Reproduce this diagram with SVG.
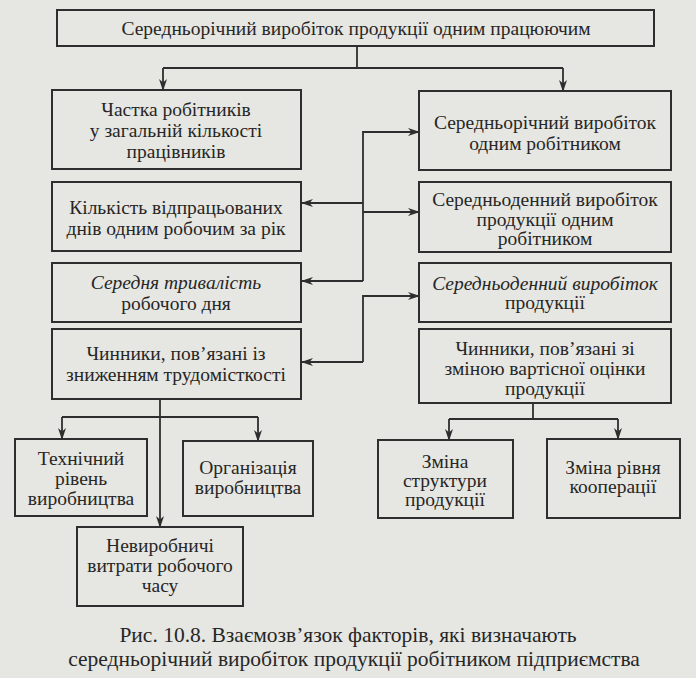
<svg xmlns="http://www.w3.org/2000/svg" width="696" height="678" viewBox="0 0 696 678">
<defs>
<style>
.bx{fill:none;stroke:#2e2e2e;stroke-width:2}
.t{font-family:'Liberation Serif','DejaVu Serif',serif;font-size:19.5px;fill:#262626;text-anchor:middle}
.i{font-style:italic}
.cap{font-family:'Liberation Serif','DejaVu Serif',serif;font-size:21.5px;fill:#262626;text-anchor:middle}
.c{fill:none;stroke:#2e2e2e;stroke-width:1.8}
</style>
<marker id="ar" viewBox="0 0 12 8" refX="11" refY="4" markerWidth="12" markerHeight="8" markerUnits="userSpaceOnUse" orient="auto">
<path d="M0,0 L12,4 L0,8 L3.5,4 Z" fill="#2e2e2e"/>
</marker>
</defs>
<rect x="0" y="0" width="696" height="678" fill="#e6e6e2"/>

<g id="connectors">
<path class="c" d="M357,46 V68"/>
<path class="c" d="M163,68 H563"/>
<path class="c" d="M163,68 V90" marker-end="url(#ar)"/>
<path class="c" d="M563,68 V91" marker-end="url(#ar)"/>
<path class="c" d="M363,281 V132 H419" marker-end="url(#ar)"/>
<path class="c" d="M363,203 H302" marker-end="url(#ar)"/>
<path class="c" d="M363,212 H419" marker-end="url(#ar)"/>
<path class="c" d="M363,281 H302" marker-end="url(#ar)"/>
<path class="c" d="M363,362 V296 H419" marker-end="url(#ar)"/>
<path class="c" d="M363,362 H302" marker-end="url(#ar)"/>
<path class="c" d="M160,399 V527" marker-end="url(#ar)"/>
<path class="c" d="M62,417 H258"/>
<path class="c" d="M62,417 V439" marker-end="url(#ar)"/>
<path class="c" d="M258,417 V441" marker-end="url(#ar)"/>
<path class="c" d="M533,403 V419"/>
<path class="c" d="M449,419 H618"/>
<path class="c" d="M449,419 V440" marker-end="url(#ar)"/>
<path class="c" d="M618,419 V439" marker-end="url(#ar)"/>
</g>

<g id="top">
<rect class="bx" x="57" y="10" width="597" height="36"/>
<text class="t" x="356" y="35">Середньорічний виробіток продукції одним працюючим</text>
</g>

<g id="l1">
<rect class="bx" x="52" y="90" width="249" height="79"/>
<text class="t" x="176" y="116">Частка робітників</text>
<text class="t" x="176" y="137">у загальній кількості</text>
<text class="t" x="176" y="158">працівників</text>
</g>
<g id="l2">
<rect class="bx" x="52" y="182" width="249" height="69"/>
<text class="t" x="176" y="214">Кількість відпрацьованих</text>
<text class="t" x="176" y="235">днів одним робочим за рік</text>
</g>
<g id="l3">
<rect class="bx" x="52" y="263" width="249" height="59"/>
<text class="t i" x="176" y="289">Середня тривалість</text>
<text class="t" x="176" y="310">робочого дня</text>
</g>
<g id="l4">
<rect class="bx" x="52" y="329" width="249" height="70"/>
<text class="t" x="176" y="360">Чинники, пов’язані із</text>
<text class="t" x="176" y="381">зниженням трудомісткості</text>
</g>

<g id="r1">
<rect class="bx" x="419" y="91" width="252" height="79"/>
<text class="t" x="545" y="129">Середньорічний виробіток</text>
<text class="t" x="545" y="150">одним робітником</text>
</g>
<g id="r2">
<rect class="bx" x="419" y="182" width="252" height="70"/>
<text class="t" x="545" y="206">Середньоденний виробіток</text>
<text class="t" x="545" y="226">продукції одним</text>
<text class="t" x="545" y="245">робітником</text>
</g>
<g id="r3">
<rect class="bx" x="419" y="263" width="252" height="59"/>
<text class="t i" x="545" y="290">Середньоденний виробіток</text>
<text class="t" x="545" y="309">продукції</text>
</g>
<g id="r4">
<rect class="bx" x="419" y="329" width="252" height="74"/>
<text class="t" x="545" y="355">Чинники, пов’язані зі</text>
<text class="t" x="545" y="375">зміною вартісної оцінки</text>
<text class="t" x="545" y="395">продукції</text>
</g>

<g id="b1">
<rect class="bx" x="15" y="439" width="132" height="77"/>
<text class="t" x="81" y="465">Технічний</text>
<text class="t" x="81" y="485">рівень</text>
<text class="t" x="81" y="505">виробництва</text>
</g>
<g id="b2">
<rect class="bx" x="183" y="441" width="130" height="75"/>
<text class="t" x="248" y="474">Організація</text>
<text class="t" x="248" y="494">виробництва</text>
</g>
<g id="b3">
<rect class="bx" x="77" y="527" width="166" height="79"/>
<text class="t" x="160" y="552">Невиробничі</text>
<text class="t" x="160" y="572">витрати робочого</text>
<text class="t" x="160" y="592">часу</text>
</g>
<g id="b4">
<rect class="bx" x="378" y="440" width="135" height="78"/>
<text class="t" x="445" y="468">Зміна</text>
<text class="t" x="445" y="487">структури</text>
<text class="t" x="445" y="506">продукції</text>
</g>
<g id="b5">
<rect class="bx" x="547" y="439" width="133" height="79"/>
<text class="t" x="613" y="474">Зміна рівня</text>
<text class="t" x="613" y="493">кооперації</text>
</g>

<g id="caption">
<text class="cap" x="348" y="642">Рис. 10.8. Взаємозв’язок факторів, які визначають</text>
<text class="cap" x="354" y="666">середньорічний виробіток продукції робітником підприємства</text>
</g>
</svg>
